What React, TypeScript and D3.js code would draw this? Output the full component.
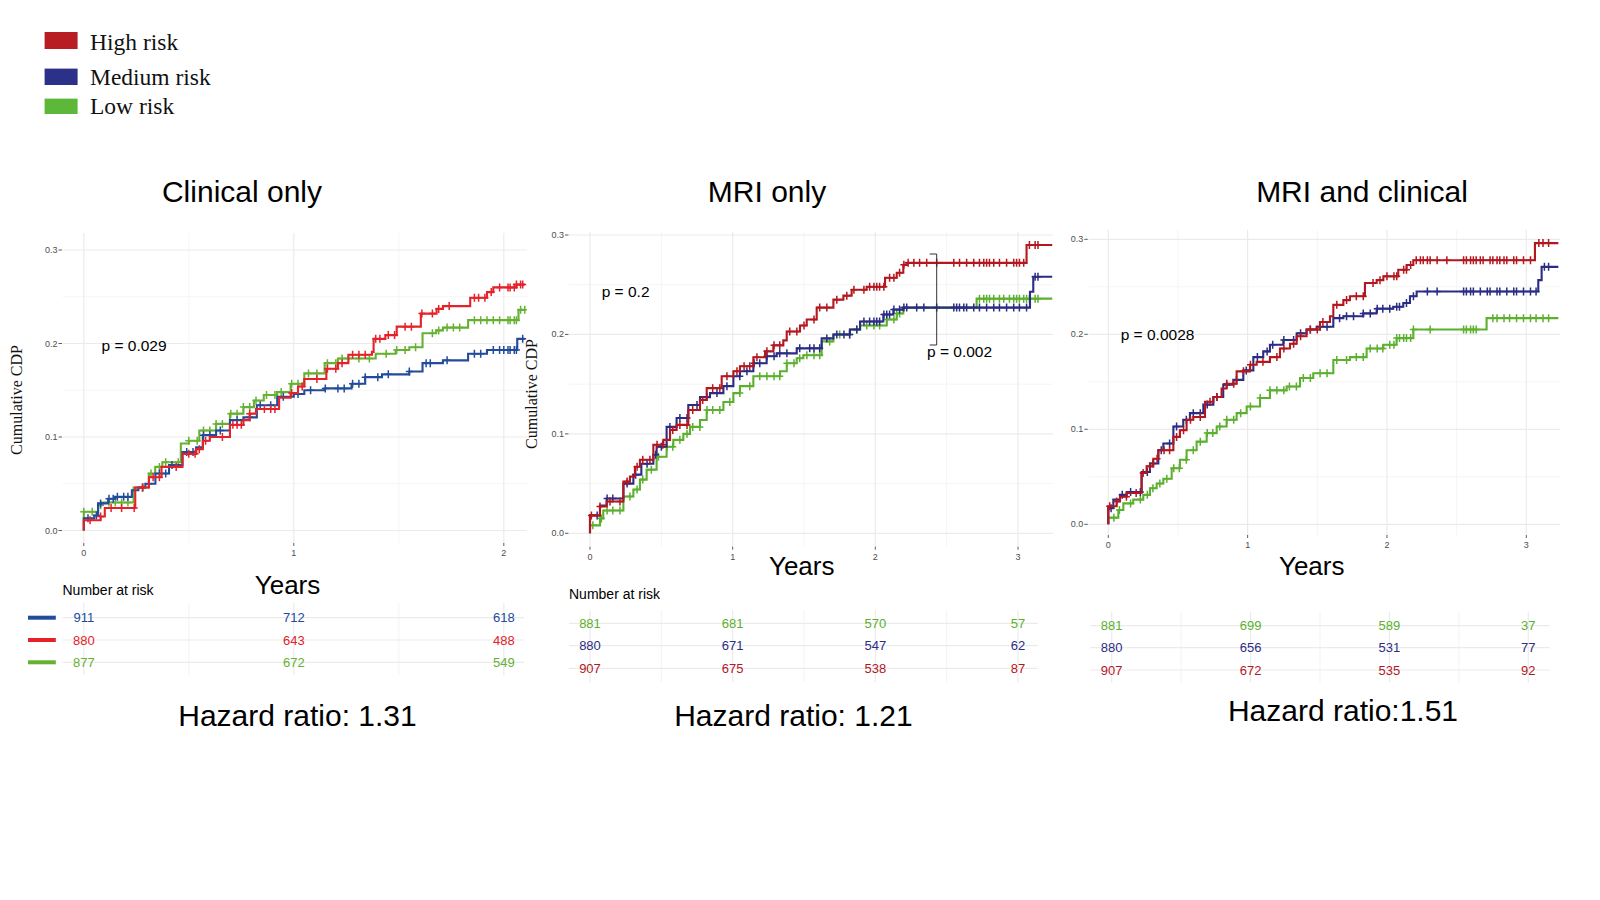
import * as d3 from "d3"

type Pt = [number, number]

const groupNames = ["High risk", "Medium risk", "Low risk"]
const legendColors = ["#b81d24", "#2b3089", "#5db83a"]

const yTicks = [0, 0.1, 0.2, 0.3]
const yMinorTicks = [0.05, 0.15, 0.25]

// ---- Clinical only ----
const clinicalHigh: Pt[] = [
  [0, 0], [0, 0.011], [0.08, 0.015], [0.1, 0.024], [0.245, 0.046], [0.31, 0.057], [0.37, 0.068],
  [0.47, 0.082], [0.535, 0.087], [0.567, 0.096], [0.6, 0.1], [0.696, 0.113], [0.76, 0.118],
  [0.79, 0.125], [0.82, 0.13], [0.93, 0.142], [0.985, 0.147], [1.02, 0.154], [1.05, 0.162],
  [1.155, 0.173], [1.21, 0.179], [1.26, 0.188], [1.372, 0.191], [1.38, 0.205], [1.436, 0.209],
  [1.49, 0.218], [1.605, 0.232], [1.68, 0.237], [1.71, 0.24], [1.84, 0.249], [1.92, 0.255],
  [1.95, 0.26], [2.06, 0.263],
]
const clinicalMedium: Pt[] = [
  [0, 0], [0, 0.013], [0.05, 0.016], [0.068, 0.029], [0.116, 0.034], [0.148, 0.036], [0.229, 0.043],
  [0.26, 0.046], [0.293, 0.05], [0.341, 0.061], [0.406, 0.07], [0.47, 0.084], [0.535, 0.089],
  [0.567, 0.102], [0.63, 0.107], [0.696, 0.118], [0.76, 0.121], [0.824, 0.134], [0.921, 0.143],
  [1.0, 0.146], [1.05, 0.15], [1.147, 0.152], [1.275, 0.157], [1.34, 0.164], [1.42, 0.167],
  [1.55, 0.17], [1.613, 0.179], [1.71, 0.182], [1.83, 0.189], [1.92, 0.193], [2.064, 0.205],
]
const clinicalLow: Pt[] = [
  [0, 0], [0, 0.02], [0.068, 0.027], [0.085, 0.03], [0.237, 0.046], [0.31, 0.061], [0.34, 0.068],
  [0.374, 0.073], [0.462, 0.093], [0.5, 0.096], [0.55, 0.107], [0.63, 0.114], [0.696, 0.125],
  [0.76, 0.132], [0.81, 0.139], [0.857, 0.145], [0.92, 0.148], [0.985, 0.157], [1.05, 0.168],
  [1.147, 0.179], [1.21, 0.184], [1.39, 0.189], [1.485, 0.193], [1.55, 0.196], [1.613, 0.211],
  [1.678, 0.214], [1.71, 0.217], [1.83, 0.225], [2.07, 0.236],
]
const clinicalHighCensor = [
  0.03, 0.08, 0.13, 0.18, 0.24, 0.28, 0.33, 0.36, 0.44, 0.5, 0.53, 0.55, 0.58, 0.66, 0.71, 0.73,
  0.75, 0.79, 0.86, 0.89, 0.91, 0.99, 1.04, 1.11, 1.16, 1.2, 1.23, 1.28, 1.31, 1.34, 1.39, 1.41,
  1.45, 1.48, 1.53, 1.56, 1.61, 1.66, 1.69, 1.74, 1.86, 1.88, 1.91, 1.94, 1.98, 2.02, 2.03, 2.05,
  2.06, 2.08, 2.09,
]
const clinicalMediumCensor = [
  0.02, 0.06, 0.08, 0.12, 0.14, 0.16, 0.19, 0.21, 0.28, 0.31, 0.36, 0.39, 0.42, 0.49, 0.52, 0.57,
  0.6, 0.65, 0.73, 0.79, 0.84, 0.89, 0.95, 1.02, 1.08, 1.15, 1.21, 1.24, 1.28, 1.31, 1.34, 1.4,
  1.45, 1.55, 1.63, 1.65, 1.73, 1.86, 1.89, 1.95, 1.98, 2.0, 2.02, 2.03, 2.05, 2.06, 2.09,
]
const clinicalLowCensor = [
  0.0, 0.04, 0.08, 0.12, 0.15, 0.18, 0.21, 0.28, 0.32, 0.36, 0.39, 0.45, 0.5, 0.54, 0.57, 0.6,
  0.63, 0.66, 0.7, 0.73, 0.76, 0.79, 0.82, 0.87, 0.91, 0.94, 0.99, 1.02, 1.07, 1.11, 1.16, 1.2,
  1.23, 1.26, 1.31, 1.36, 1.44, 1.49, 1.53, 1.58, 1.66, 1.69, 1.73, 1.76, 1.79, 1.86, 1.89, 1.92,
  1.95, 1.98, 2.02, 2.03, 2.05, 2.06, 2.08, 2.1,
]
const clinicalFollowUp = 2.1
const clinicalRiskMedium = [911, 712, 618]
const clinicalRiskHigh = [880, 643, 488]
const clinicalRiskLow = [877, 672, 549]

// ---- MRI only ----
const mriHigh: Pt[] = [
  [0, 0], [0, 0.018], [0.07, 0.027], [0.117, 0.032], [0.234, 0.052], [0.28, 0.057], [0.315, 0.067],
  [0.35, 0.074], [0.444, 0.089], [0.514, 0.094], [0.561, 0.104], [0.607, 0.109], [0.689, 0.124],
  [0.771, 0.134], [0.818, 0.146], [0.923, 0.158], [1.005, 0.163], [1.051, 0.168], [1.145, 0.177],
  [1.227, 0.183], [1.285, 0.189], [1.355, 0.194], [1.379, 0.203], [1.472, 0.209], [1.519, 0.215],
  [1.589, 0.227], [1.706, 0.235], [1.776, 0.239], [1.834, 0.245], [1.939, 0.248], [2.068, 0.257],
  [2.15, 0.262], [2.196, 0.27], [2.22, 0.272], [3.06, 0.29],
]
const mriMedium: Pt[] = [
  [0, 0], [0, 0.018], [0.07, 0.028], [0.117, 0.035], [0.234, 0.05], [0.304, 0.059], [0.36, 0.07],
  [0.444, 0.079], [0.467, 0.087], [0.537, 0.107], [0.607, 0.116], [0.689, 0.129], [0.771, 0.137],
  [0.841, 0.141], [0.935, 0.148], [1.005, 0.158], [1.051, 0.163], [1.145, 0.171], [1.238, 0.178],
  [1.308, 0.181], [1.449, 0.186], [1.624, 0.196], [1.706, 0.2], [1.822, 0.205], [1.893, 0.213],
  [2.056, 0.22], [2.126, 0.225], [2.196, 0.227], [3.084, 0.243], [3.107, 0.258],
]
const mriLow: Pt[] = [
  [0, 0], [0, 0.008], [0.07, 0.015], [0.093, 0.023], [0.234, 0.037], [0.304, 0.044], [0.35, 0.054],
  [0.397, 0.064], [0.467, 0.077], [0.537, 0.087], [0.584, 0.094], [0.654, 0.1], [0.701, 0.107],
  [0.771, 0.114], [0.818, 0.124], [0.935, 0.132], [1.005, 0.141], [1.051, 0.148], [1.145, 0.158],
  [1.332, 0.163], [1.379, 0.171], [1.449, 0.176], [1.495, 0.179], [1.624, 0.193], [1.706, 0.2],
  [1.822, 0.205], [1.893, 0.209], [2.08, 0.215], [2.15, 0.221], [2.196, 0.227], [2.71, 0.236],
]
const mriHighCensor = [
  0.01, 0.07, 0.14, 0.21, 0.26, 0.33, 0.37, 0.42, 0.47, 0.51, 0.58, 0.63, 0.68, 0.72, 0.79, 0.86,
  0.91, 0.96, 1.03, 1.08, 1.12, 1.17, 1.24, 1.29, 1.33, 1.4, 1.45, 1.5, 1.57, 1.61, 1.66, 1.73,
  1.8, 1.85, 1.92, 1.96, 1.99, 2.01, 2.03, 2.06, 2.1, 2.13, 2.17, 2.2, 2.23, 2.27, 2.31, 2.36,
  2.43, 2.55, 2.59, 2.64, 2.69, 2.73, 2.76, 2.78, 2.8, 2.83, 2.87, 2.92, 2.97, 2.99, 3.01, 3.04,
  3.08, 3.12, 3.14,
]
const mriMediumCensor = [
  0.05, 0.12, 0.16, 0.26, 0.32, 0.4, 0.46, 0.5, 0.56, 0.63, 0.68, 0.75, 0.82, 0.89, 0.96, 1.05,
  1.1, 1.15, 1.19, 1.24, 1.29, 1.33, 1.38, 1.47, 1.54, 1.57, 1.61, 1.66, 1.73, 1.78, 1.82, 1.87,
  1.92, 1.96, 1.99, 2.01, 2.03, 2.06, 2.08, 2.1, 2.13, 2.17, 2.2, 2.22, 2.29, 2.34, 2.43, 2.55,
  2.57, 2.59, 2.62, 2.64, 2.69, 2.73, 2.78, 2.83, 2.87, 2.92, 2.97, 3.01, 3.06, 3.12, 3.14,
]
const mriLowCensor = [
  0.02, 0.08, 0.12, 0.16, 0.21, 0.28, 0.33, 0.37, 0.43, 0.48, 0.54, 0.58, 0.63, 0.68, 0.72, 0.77,
  0.82, 0.86, 0.91, 0.98, 1.05, 1.12, 1.19, 1.24, 1.29, 1.33, 1.38, 1.43, 1.47, 1.52, 1.57, 1.61,
  1.68, 1.75, 1.82, 1.87, 1.94, 1.99, 2.03, 2.08, 2.13, 2.15, 2.17, 2.73, 2.76, 2.78, 2.8, 2.83,
  2.87, 2.9, 2.94, 2.97, 2.99, 3.01, 3.04, 3.06, 3.08, 3.12, 3.14,
]
const mriFollowUp = 3.24
const mriRiskLow = [881, 681, 570, 57]
const mriRiskMedium = [880, 671, 547, 62]
const mriRiskHigh = [907, 675, 538, 87]

// ---- MRI and clinical ----
const bothHigh: Pt[] = [
  [0, 0], [0, 0.019], [0.06, 0.024], [0.084, 0.029], [0.132, 0.033], [0.239, 0.054], [0.275, 0.061],
  [0.323, 0.069], [0.359, 0.078], [0.467, 0.092], [0.514, 0.099], [0.562, 0.11], [0.61, 0.113],
  [0.694, 0.129], [0.754, 0.134], [0.813, 0.143], [0.849, 0.148], [0.921, 0.161], [1.017, 0.168],
  [1.065, 0.171], [1.16, 0.176], [1.232, 0.185], [1.304, 0.19], [1.352, 0.198], [1.423, 0.205],
  [1.519, 0.213], [1.591, 0.219], [1.615, 0.231], [1.687, 0.236], [1.734, 0.24], [1.842, 0.254],
  [1.926, 0.257], [1.974, 0.261], [2.081, 0.268], [2.141, 0.273], [2.189, 0.278], [3.062, 0.296],
]
const bothMedium: Pt[] = [
  [0, 0], [0, 0.017], [0.036, 0.026], [0.084, 0.031], [0.132, 0.034], [0.239, 0.055], [0.299, 0.064],
  [0.359, 0.078], [0.395, 0.085], [0.467, 0.103], [0.538, 0.11], [0.586, 0.117], [0.682, 0.126],
  [0.754, 0.134], [0.825, 0.147], [0.897, 0.152], [0.969, 0.162], [1.041, 0.176], [1.112, 0.182],
  [1.16, 0.189], [1.256, 0.194], [1.352, 0.201], [1.423, 0.205], [1.495, 0.208], [1.615, 0.217],
  [1.687, 0.219], [1.83, 0.222], [1.926, 0.227], [2.045, 0.229], [2.117, 0.233], [2.165, 0.24],
  [2.213, 0.245], [3.086, 0.257], [3.11, 0.271],
]
const bothLow: Pt[] = [
  [0, 0], [0, 0.007], [0.072, 0.015], [0.108, 0.022], [0.179, 0.026], [0.251, 0.031], [0.299, 0.038],
  [0.347, 0.043], [0.395, 0.048], [0.455, 0.059], [0.514, 0.068], [0.562, 0.078], [0.634, 0.087],
  [0.706, 0.096], [0.778, 0.103], [0.849, 0.11], [0.921, 0.117], [0.993, 0.124], [1.089, 0.133],
  [1.16, 0.141], [1.28, 0.145], [1.376, 0.154], [1.471, 0.159], [1.615, 0.173], [1.734, 0.176],
  [1.854, 0.185], [1.974, 0.189], [2.069, 0.196], [2.189, 0.205], [2.715, 0.217],
]
const bothHighCensor = [
  0.01, 0.06, 0.13, 0.2, 0.25, 0.3, 0.35, 0.4, 0.44, 0.49, 0.54, 0.59, 0.66, 0.73, 0.78, 0.85,
  0.9, 0.97, 1.02, 1.11, 1.21, 1.26, 1.33, 1.38, 1.45, 1.5, 1.54, 1.64, 1.71, 1.78, 1.83, 1.9,
  1.95, 2.0, 2.05, 2.07, 2.12, 2.14, 2.17, 2.21, 2.24, 2.26, 2.29, 2.31, 2.36, 2.43, 2.55, 2.57,
  2.6, 2.62, 2.64, 2.67, 2.69, 2.74, 2.76, 2.79, 2.81, 2.84, 2.86, 2.91, 2.93, 2.98, 3.03, 3.09,
  3.12, 3.16,
]
const bothMediumCensor = [
  0.02, 0.1, 0.16, 0.23, 0.28, 0.32, 0.38, 0.44, 0.49, 0.56, 0.61, 0.66, 0.71, 0.78, 0.85, 0.92,
  0.99, 1.07, 1.14, 1.18, 1.26, 1.33, 1.38, 1.45, 1.52, 1.57, 1.66, 1.71, 1.76, 1.83, 1.88, 1.93,
  1.97, 2.02, 2.07, 2.09, 2.14, 2.19, 2.29, 2.36, 2.55, 2.57, 2.6, 2.62, 2.67, 2.72, 2.74, 2.79,
  2.81, 2.86, 2.91, 2.93, 2.98, 3.03, 3.07, 3.13, 3.16,
]
const bothLowCensor = [
  0.04, 0.08, 0.16, 0.23, 0.28, 0.32, 0.37, 0.42, 0.47, 0.51, 0.56, 0.61, 0.66, 0.71, 0.75, 0.8,
  0.85, 0.9, 0.95, 1.02, 1.09, 1.16, 1.21, 1.26, 1.3, 1.35, 1.4, 1.45, 1.52, 1.57, 1.64, 1.71,
  1.78, 1.83, 1.88, 1.93, 1.97, 2.02, 2.05, 2.07, 2.09, 2.12, 2.14, 2.17, 2.19, 2.31, 2.55, 2.57,
  2.6, 2.62, 2.64, 2.76, 2.79, 2.84, 2.88, 2.93, 2.98, 3.03, 3.07, 3.12, 3.16,
]
const bothFollowUp = 3.23
const bothRiskLow = [881, 699, 589, 37]
const bothRiskMedium = [880, 656, 531, 77]
const bothRiskHigh = [907, 672, 535, 92]

// colours of the two palettes used by the source figures
const p1Red = "#e3222a"
const p1Blue = "#234b9b"
const p1Green = "#66b132"
const p2Red = "#b3171f"
const p2Navy = "#2b2d84"
const p2Green = "#5cb02f"

interface Series {
  color: string
  steps: Pt[]
  censor: number[]
}
interface RiskRow {
  color: string
  values: number[]
  bar?: boolean
}
interface Panel {
  title: string
  xMax: number
  followUp: number
  series: Series[]
  risk: RiskRow[]
  pText: string
  hazard: string
  // layout
  px: [number, number]
  py: [number, number]
  box: { l: number; t: number; r: number; b: number }
  titleX: number
  yLabel: [number, number] | null
  pPos: [number, number]
  yearsPos: [number, number]
  narPos: [number, number] | null
  table: { px: [number, number]; rows: number[]; l: number; r: number; t: number; b: number }
  hazardPos: [number, number]
  bracket?: { x: number; y0: number; y1: number }
  pPos2?: [number, number]
  pText2?: string
}

const panels: Panel[] = [
  {
    title: "Clinical only",
    xMax: 2,
    followUp: clinicalFollowUp,
    series: [
      { color: p1Green, steps: clinicalLow, censor: clinicalLowCensor },
      { color: p1Blue, steps: clinicalMedium, censor: clinicalMediumCensor },
      { color: p1Red, steps: clinicalHigh, censor: clinicalHighCensor },
    ],
    risk: [
      { color: p1Blue, values: clinicalRiskMedium, bar: true },
      { color: p1Red, values: clinicalRiskHigh, bar: true },
      { color: p1Green, values: clinicalRiskLow, bar: true },
    ],
    pText: "p = 0.029",
    hazard: "Hazard ratio: 1.31",
    px: [83.8, 503.8],
    py: [530.5, 250],
    box: { l: 62.5, t: 233, r: 527, b: 543 },
    titleX: 242,
    yLabel: [16, 400],
    pPos: [101.5, 351],
    yearsPos: [287.5, 594],
    narPos: [62.5, 595],
    table: { px: [83.8, 503.8], rows: [617.7, 640, 662.3], l: 62.5, r: 524, t: 603, b: 675 },
    hazardPos: [297.5, 726],
  },
  {
    title: "MRI only",
    xMax: 3,
    followUp: mriFollowUp,
    series: [
      { color: p2Green, steps: mriLow, censor: mriLowCensor },
      { color: p2Navy, steps: mriMedium, censor: mriMediumCensor },
      { color: p2Red, steps: mriHigh, censor: mriHighCensor },
    ],
    risk: [
      { color: p2Green, values: mriRiskLow },
      { color: p2Navy, values: mriRiskMedium },
      { color: p2Red, values: mriRiskHigh },
    ],
    pText: "p = 0.2",
    hazard: "Hazard ratio: 1.21",
    px: [590, 1018],
    py: [533.3, 235],
    box: { l: 569, t: 231.7, r: 1053, b: 546.7 },
    titleX: 767,
    yLabel: [531, 394],
    pPos: [601.7, 297],
    yearsPos: [801.7, 575],
    narPos: [569, 599],
    table: { px: [590, 1018], rows: [623.3, 645.7, 668.3], l: 569, r: 1038, t: 610, b: 682 },
    hazardPos: [793.4, 726],
    bracket: { x: 936.7, y0: 254, y1: 345 },
    pPos2: [927, 357],
    pText2: "p = 0.002",
  },
  {
    title: "MRI and clinical",
    xMax: 3,
    followUp: bothFollowUp,
    series: [
      { color: p2Green, steps: bothLow, censor: bothLowCensor },
      { color: p2Navy, steps: bothMedium, censor: bothMediumCensor },
      { color: p2Red, steps: bothHigh, censor: bothHighCensor },
    ],
    risk: [
      { color: p2Green, values: bothRiskLow },
      { color: p2Navy, values: bothRiskMedium },
      { color: p2Red, values: bothRiskHigh },
    ],
    pText: "p = 0.0028",
    hazard: "Hazard ratio:1.51",
    px: [1108.3, 1526.3],
    py: [524.3, 239.3],
    box: { l: 1088.3, t: 230, r: 1560, b: 535 },
    titleX: 1362,
    yLabel: null,
    pPos: [1120.7, 340],
    yearsPos: [1311.7, 575],
    narPos: null,
    table: { px: [1111.7, 1528.3], rows: [625.7, 647.7, 670], l: 1090, r: 1550, t: 611.7, b: 682.7 },
    hazardPos: [1343, 721],
  },
]

const SANS = "'Liberation Sans', Arial, Helvetica, sans-serif"
const SERIF = "'Liberation Serif', 'Times New Roman', serif"
const GRID = "#ebebeb"
const GRID_MINOR = "#f5f5f5"
const AXIS_TEXT = "#4d4d4d"

const stepValue = (pts: Pt[], t: number) => {
  let v = pts[0][1]
  for (const p of pts) if (p[0] <= t) v = p[1]
  return v
}

function KmPanel({ p, idx }: { p: Panel; idx: number }) {
  const x = d3.scaleLinear().domain([0, p.xMax]).range(p.px)
  const y = d3.scaleLinear().domain([0, 0.3]).range(p.py)
  const tx = d3.scaleLinear().domain([0, p.xMax]).range(p.table.px)
  const xTicks = d3.range(0, p.xMax + 0.01, 1)
  const xMinor = d3.range(0.5, p.xMax + 0.01, 1)
  const tableGrid = d3.range(0, p.xMax + 0.01, 0.5)
  const line = d3
    .line<Pt>()
    .curve(d3.curveStepAfter)
    .x(d => x(d[0]))
    .y(d => y(d[1]))
  const clipId = `clip-${idx}`
  const { box } = p

  return (
    <g>
      <defs>
        <clipPath id={clipId}>
          <rect x={box.l} y={box.t} width={box.r - box.l} height={box.b - box.t} />
        </clipPath>
      </defs>
      <text x={p.titleX} y={202} textAnchor="middle" fontFamily={SANS} fontSize={30} fill="#000">
        {p.title}
      </text>

      {/* grid */}
      <g clipPath={`url(#${clipId})`}>
        {yMinorTicks.map(v => (
          <line key={`ym${v}`} x1={box.l} x2={box.r} y1={y(v)} y2={y(v)} stroke={GRID_MINOR} strokeWidth={1} />
        ))}
        {xMinor.map(v => (
          <line key={`xm${v}`} x1={x(v)} x2={x(v)} y1={box.t} y2={box.b} stroke={GRID_MINOR} strokeWidth={1} />
        ))}
        {yTicks.map(v => (
          <line key={`y${v}`} x1={box.l} x2={box.r} y1={y(v)} y2={y(v)} stroke={GRID} strokeWidth={1.2} />
        ))}
        {xTicks.map(v => (
          <line key={`x${v}`} x1={x(v)} x2={x(v)} y1={box.t} y2={box.b} stroke={GRID} strokeWidth={1.2} />
        ))}

        {/* curves */}
        {p.series.map((s, i) => {
          const last = s.steps[s.steps.length - 1][1]
          const data: Pt[] = [...s.steps, [p.followUp, last]]
          return (
            <g key={i}>
              <path d={line(data) ?? ""} fill="none" stroke={s.color} strokeWidth={2.1} />
              {s.censor.map((c, j) => {
                const cx = x(c)
                const cy = y(stepValue(s.steps, c))
                return (
                  <path
                    key={j}
                    d={`M${cx - 3.5},${cy}H${cx + 3.5}M${cx},${cy - 4}V${cy + 4}`}
                    stroke={s.color}
                    strokeWidth={1.5}
                    fill="none"
                  />
                )
              })}
            </g>
          )
        })}
      </g>

      {/* y axis */}
      {yTicks.map(v => (
        <g key={`yt${v}`}>
          <text
            x={box.l - 5}
            y={y(v) + 3}
            textAnchor="end"
            fontFamily={SANS}
            fontSize={9}
            fill={AXIS_TEXT}
          >
            {v.toFixed(1)}
          </text>
          <line x1={box.l - 4} x2={box.l - 0.5} y1={y(v)} y2={y(v)} stroke="#333" strokeWidth={0.8} />
        </g>
      ))}
      {/* x axis */}
      {xTicks.map(v => (
        <g key={`xt${v}`}>
          <line x1={x(v)} x2={x(v)} y1={box.b} y2={box.b + 3} stroke="#333" strokeWidth={0.8} />
          <text x={x(v)} y={box.b + 13} textAnchor="middle" fontFamily={SANS} fontSize={9} fill={AXIS_TEXT}>
            {v}
          </text>
        </g>
      ))}

      {p.yLabel && (
        <text
          transform={`translate(${p.yLabel[0] + 5.5},${p.yLabel[1]}) rotate(-90)`}
          textAnchor="middle"
          fontFamily={SERIF}
          fontSize={16}
          fill="#111"
        >
          Cumulative CDP
        </text>
      )}

      <text x={p.pPos[0]} y={p.pPos[1]} fontFamily={SANS} fontSize={15.5} fill="#000">
        {p.pText}
      </text>
      {p.bracket && (
        <path
          d={`M${p.bracket.x - 7},${p.bracket.y0}H${p.bracket.x}V${p.bracket.y1}H${p.bracket.x - 7}`}
          fill="none"
          stroke="#333"
          strokeWidth={1}
        />
      )}
      {p.pPos2 && (
        <text x={p.pPos2[0]} y={p.pPos2[1]} fontFamily={SANS} fontSize={15.5} fill="#000">
          {p.pText2}
        </text>
      )}

      <text x={p.yearsPos[0]} y={p.yearsPos[1]} textAnchor="middle" fontFamily={SANS} fontSize={26} fill="#000">
        Years
      </text>

      {/* number at risk table */}
      {p.narPos && (
        <text x={p.narPos[0]} y={p.narPos[1]} fontFamily={SANS} fontSize={14} fill="#000">
          Number at risk
        </text>
      )}
      {tableGrid.map(v => (
        <line
          key={`tg${v}`}
          x1={tx(v)}
          x2={tx(v)}
          y1={p.table.t}
          y2={p.table.b}
          stroke={Number.isInteger(v) ? GRID : GRID_MINOR}
          strokeWidth={1.2}
        />
      ))}
      {p.risk.map((r, i) => (
        <g key={`r${i}`}>
          <line
            x1={p.table.l}
            x2={p.table.r}
            y1={p.table.rows[i]}
            y2={p.table.rows[i]}
            stroke={GRID}
            strokeWidth={1.2}
          />
          {r.bar && (
            <rect x={28} y={p.table.rows[i] - 2} width={27.8} height={4} fill={r.color} />
          )}
          {r.values.map((n, j) => (
            <text
              key={j}
              x={tx(j)}
              y={p.table.rows[i] + 4.5}
              textAnchor="middle"
              fontFamily={SANS}
              fontSize={13}
              fill={r.color}
            >
              {n}
            </text>
          ))}
        </g>
      ))}

      <text
        x={p.hazardPos[0]}
        y={p.hazardPos[1]}
        textAnchor="middle"
        fontFamily={SANS}
        fontSize={30}
        fill="#000"
      >
        {p.hazard}
      </text>
    </g>
  )
}

export default function App() {
  const legendRows = [
    { y: 32, h: 17, base: 50 },
    { y: 68.6, h: 16.4, base: 84.5 },
    { y: 98.6, h: 15.4, base: 114 },
  ]
  return (
    <svg
      width={1600}
      height={900}
      viewBox="0 0 1600 900"
      style={{ position: "absolute", left: 0, top: 0, background: "#fff" }}
    >
      <rect width={1600} height={900} fill="#fff" />
      {groupNames.map((g, i) => (
        <g key={g}>
          <rect x={44.6} y={legendRows[i].y} width={33} height={legendRows[i].h} fill={legendColors[i]} />
          <text x={90} y={legendRows[i].base} fontFamily={SERIF} fontSize={23.5} fill="#111">
            {g}
          </text>
        </g>
      ))}
      {panels.map((p, i) => (
        <KmPanel key={p.title} p={p} idx={i} />
      ))}
    </svg>
  )
}
